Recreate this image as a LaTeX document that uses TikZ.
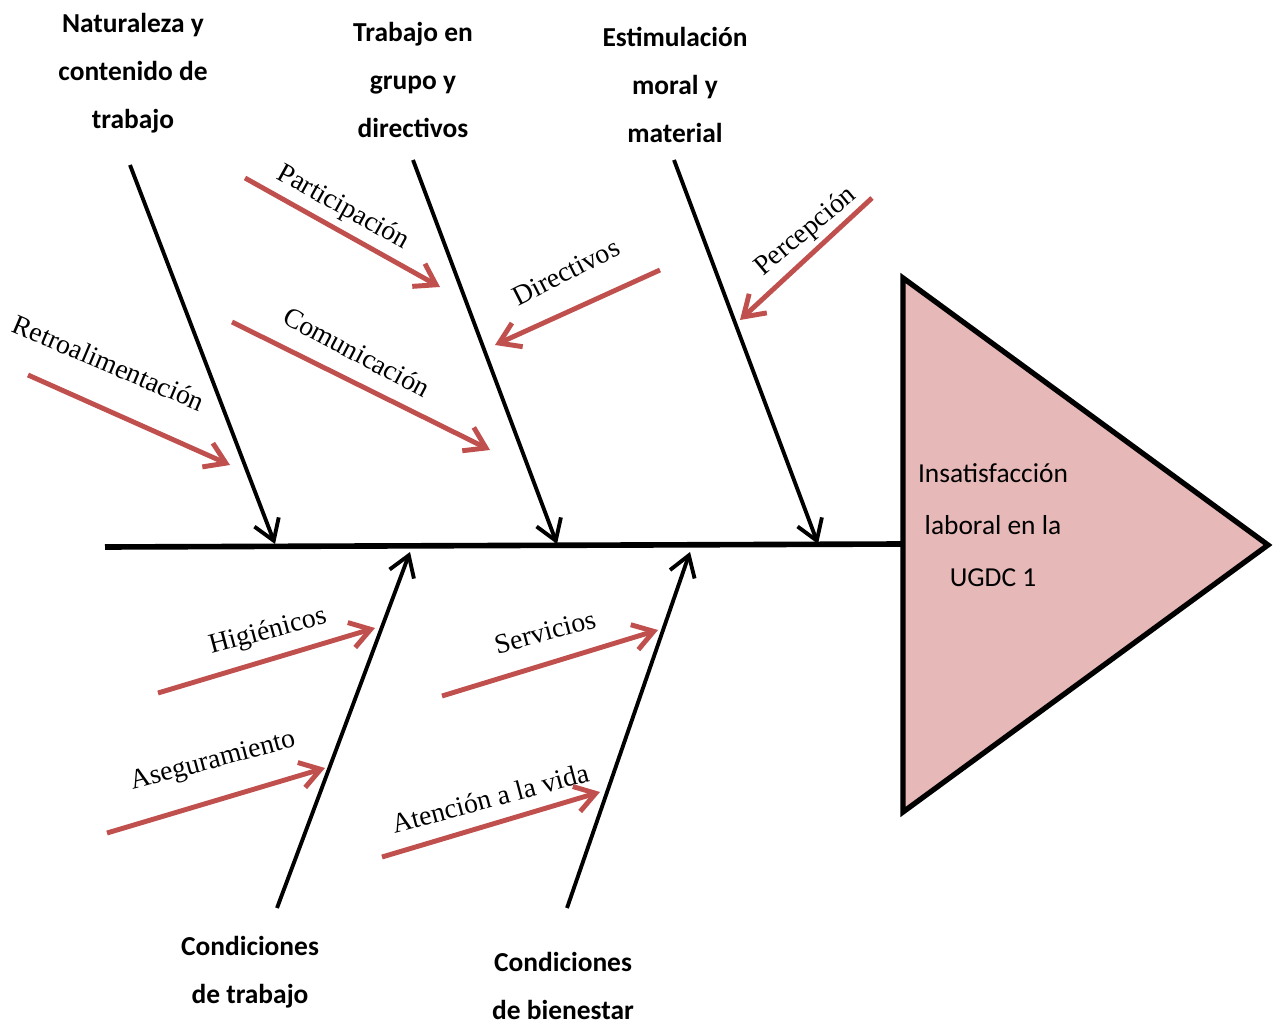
\documentclass[tikz,border=0pt]{standalone}
\usepackage{fontspec}
\setmainfont{Liberation Serif}
\newfontfamily\calfont{Carlito}
\usetikzlibrary{arrows.meta}
\definecolor{twigred}{HTML}{C0504D}
\definecolor{headpink}{HTML}{E6B8B7}

\begin{document}
\begin{tikzpicture}[>={Straight Barb[length=2mm,width=2.6mm]},
  bone/.style={->,line width=1.1pt},
  twig/.style={->,draw=twigred,line width=1.4pt},
  cause/.style={font=\calfont\bfseries\fontsize{7.8}{13.7}\selectfont,align=center},
  effect/.style={font=\calfont\fontsize{7.8}{14.8}\selectfont,align=center},
  sub/.style={font=\fontsize{7.9}{9}\selectfont,inner sep=0pt}]
\useasboundingbox (0,0) rectangle (12.8,-10.26);
\coordinate (tail) at (1.05,-5.47);
\coordinate (head) at (9.03,-5.44);
\coordinate (t1) at (9.03,-2.78);
\coordinate (t2) at (9.03,-8.12);
\coordinate (tip) at (12.68,-5.45);
\draw[line width=1.6pt] (tail) -- (head);
\draw[line width=1.5pt,fill=headpink] (t1) -- (tip) -- (t2) -- cycle;
\node[effect] (eff) at (9.93,-5.25) {Insatisfacción\\laboral en la\\UGDC 1};
\node[cause] (c1) at (1.33,-0.73) {Naturaleza y\\contenido de\\trabajo};
\node[cause] (c2) at (4.13,-0.80) {Trabajo en\\grupo y\\directivos};
\node[cause] (c3) at (6.75,-0.85) {Estimulación\\moral y\\material};
\node[cause] (c4) at (2.50,-9.72) {Condiciones\\de trabajo};
\node[cause] (c5) at (5.63,-9.86) {Condiciones\\de bienestar};
\coordinate (a1) at (1.30,-1.65);
\coordinate (b1) at (2.75,-5.44);
\coordinate (a2) at (4.13,-1.60);
\coordinate (b2) at (5.57,-5.44);
\coordinate (a3) at (6.74,-1.60);
\coordinate (b3) at (8.18,-5.44);
\coordinate (a4) at (2.77,-9.08);
\coordinate (b4) at (4.10,-5.52);
\coordinate (a5) at (5.67,-9.08);
\coordinate (b5) at (6.90,-5.52);
\draw[bone] (a1) -- (b1);
\draw[bone] (a2) -- (b2);
\draw[bone] (a3) -- (b3);
\draw[bone] (a4) -- (b4);
\draw[bone] (a5) -- (b5);
\coordinate (r1a) at (0.28,-3.75);
\coordinate (r1b) at (2.30,-4.65);
\coordinate (r2a) at (2.45,-1.78);
\coordinate (r2b) at (4.40,-2.87);
\coordinate (r3a) at (2.32,-3.22);
\coordinate (r3b) at (4.90,-4.50);
\coordinate (r4a) at (6.60,-2.70);
\coordinate (r4b) at (4.95,-3.45);
\coordinate (r5a) at (8.72,-1.98);
\coordinate (r5b) at (7.40,-3.20);
\coordinate (r6a) at (1.58,-6.93);
\coordinate (r6b) at (3.75,-6.28);
\coordinate (r7a) at (1.07,-8.33);
\coordinate (r7b) at (3.25,-7.68);
\coordinate (r8a) at (4.42,-6.96);
\coordinate (r8b) at (6.58,-6.30);
\coordinate (r9a) at (3.82,-8.57);
\coordinate (r9b) at (6.00,-7.92);
\draw[twig] (r1a) -- (r1b);
\draw[twig] (r2a) -- (r2b);
\draw[twig] (r3a) -- (r3b);
\draw[twig] (r4a) -- (r4b);
\draw[twig] (r5a) -- (r5b);
\draw[twig] (r6a) -- (r6b);
\draw[twig] (r7a) -- (r7b);
\draw[twig] (r8a) -- (r8b);
\draw[twig] (r9a) -- (r9b);
\node[sub,rotate=-23] (s1) at (1.09,-3.63) {Retroalimentación};
\node[sub,rotate=-29] (s2) at (3.43,-2.08) {Participación};
\node[sub,rotate=-28] (s3) at (3.57,-3.52) {Comunicación};
\node[sub,rotate=27] (s4) at (5.66,-2.72) {Directivos};
\node[sub,rotate=40] (s5) at (8.06,-2.32) {Percepción};
\node[sub,rotate=15] (s6) at (2.68,-6.32) {Higiénicos};
\node[sub,rotate=15] (s7) at (2.13,-7.62) {Aseguramiento};
\node[sub,rotate=15] (s8) at (5.45,-6.32) {Servicios};
\node[sub,rotate=15] (s9) at (4.90,-7.98) {Atención a la vida};
\end{tikzpicture}
\end{document}
